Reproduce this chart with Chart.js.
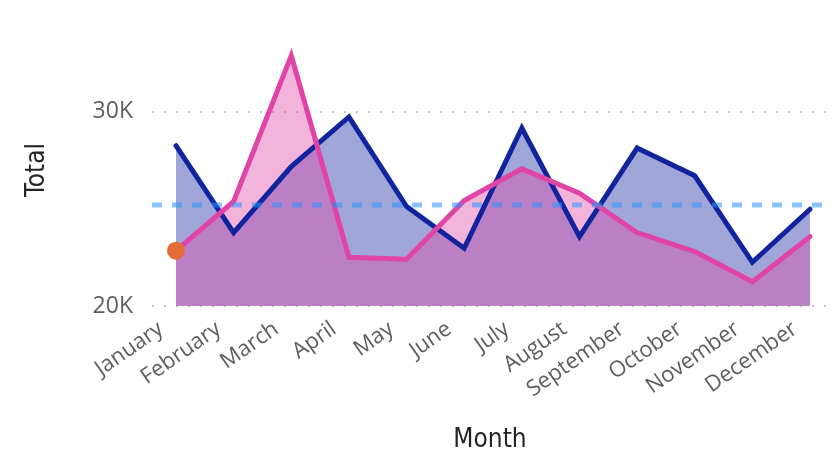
<!DOCTYPE html>
<html>
<head>
<meta charset="utf-8">
<title>Total by Month</title>
<script src="https://cdn.jsdelivr.net/npm/chart.js@4/dist/chart.umd.min.js"></script>
<style>
  html, body { margin: 0; padding: 0; background: #fff; }
  #wrap { width: 838px; height: 459px; }
</style>
</head>
<body>
<div id="wrap"><canvas id="totalChart" width="838" height="459"></canvas></div>
<script>
// ===== CHART DATA =====
const months = ['January', 'February', 'March', 'April', 'May', 'June', 'July',
  'August', 'September', 'October', 'November', 'December'];
const totalBlue = [28250, 23780, 27180, 29730, 25120, 22970, 29160, 23570, 28130, 26700, 22250, 24980];
const totalPink = [22850, 25380, 32890, 22510, 22410, 25430, 27060, 25810, 23780, 22800, 21250, 23570];
const averageLine = 25200;
const yTicks = [20000, 30000];

// ===== INITIALIZE CHART =====
const initChart = () => {
  const ctx = document.getElementById('totalChart');
  if (!ctx) return;

  // category positions sit a bit inside the plot edges
  const xMin = -0.4164;
  const xMax = 11.312;

  new Chart(ctx, {
    type: 'line',
    data: {
      datasets: [
        {
          label: 'Average',
          data: [{ x: xMin, y: averageLine }, { x: xMax, y: averageLine }],
          borderColor: 'rgba(40, 148, 255, 0.55)',
          borderWidth: 5,
          borderDash: [10, 10],
          pointRadius: 0,
          fill: false,
          order: 0
        },
        {
          label: 'Pink',
          data: totalPink.map((v, i) => ({ x: i, y: v })),
          borderColor: '#e044a7',
          backgroundColor: 'rgba(224, 68, 167, 0.4)',
          borderWidth: 5,
          borderCapStyle: 'round',
          pointRadius: totalPink.map((v, i) => (i === 0 ? 9 : 0)),
          pointBackgroundColor: '#e66c37',
          pointBorderWidth: 0,
          fill: 'start',
          tension: 0,
          order: 1
        },
        {
          label: 'Blue',
          data: totalBlue.map((v, i) => ({ x: i, y: v })),
          borderColor: '#12239e',
          backgroundColor: 'rgba(18, 35, 158, 0.4)',
          borderWidth: 5,
          borderCapStyle: 'round',
          pointRadius: 0,
          fill: 'start',
          tension: 0,
          order: 2
        }
      ]
    },
    options: {
      responsive: false,
      animation: false,
      layout: {
        padding: { left: 0, right: 10, top: 34, bottom: 0 }
      },
      scales: {
        x: {
          type: 'linear',
          min: xMin,
          max: xMax,
          afterBuildTicks: (scale) => {
            scale.ticks = months.map((m, i) => ({ value: i }));
          },
          afterFit: (scale) => { scale.height = 153; },
          grid: { display: false, drawTicks: false },
          border: { display: false },
          ticks: {
            autoSkip: false,
            maxRotation: 35,
            minRotation: 35,
            padding: 10,
            labelOffset: -15,
            color: '#605e5c',
            font: { family: "'Open Sans', sans-serif", size: 22 },
            callback: (value) => months[value]
          },
          title: {
            display: true,
            text: 'Month',
            color: '#252423',
            padding: { top: 0, bottom: 3 },
            font: { family: "'DejaVu Sans Condensed', 'DejaVu Sans', sans-serif", size: 26 }
          }
        },
        y: {
          min: 20000,
          max: 34000,
          afterBuildTicks: (scale) => {
            scale.ticks = yTicks.map(v => ({ value: v }));
          },
          afterFit: (scale) => { scale.width = 152; },
          grid: {
            color: '#c8c6c4',
            lineWidth: 2,
            drawTicks: false
          },
          border: { display: false, dash: [2, 10] },
          ticks: {
            padding: 19,
            color: '#605e5c',
            font: { family: "'Open Sans', sans-serif", size: 23 },
            callback: (value) => (value / 1000) + 'K'
          },
          title: {
            display: true,
            text: 'Total',
            color: '#252423',
            padding: { top: 22, bottom: 0 },
            font: { family: "'DejaVu Sans Condensed', 'DejaVu Sans', sans-serif", size: 26 }
          }
        }
      },
      plugins: {
        legend: { display: false },
        tooltip: { enabled: false },
        filler: { drawTime: 'beforeDatasetsDraw' }
      }
    }
  });
};

// ===== INITIALIZE PAGE =====
document.addEventListener('DOMContentLoaded', () => {
  initChart();
});
</script>
</body>
</html>
